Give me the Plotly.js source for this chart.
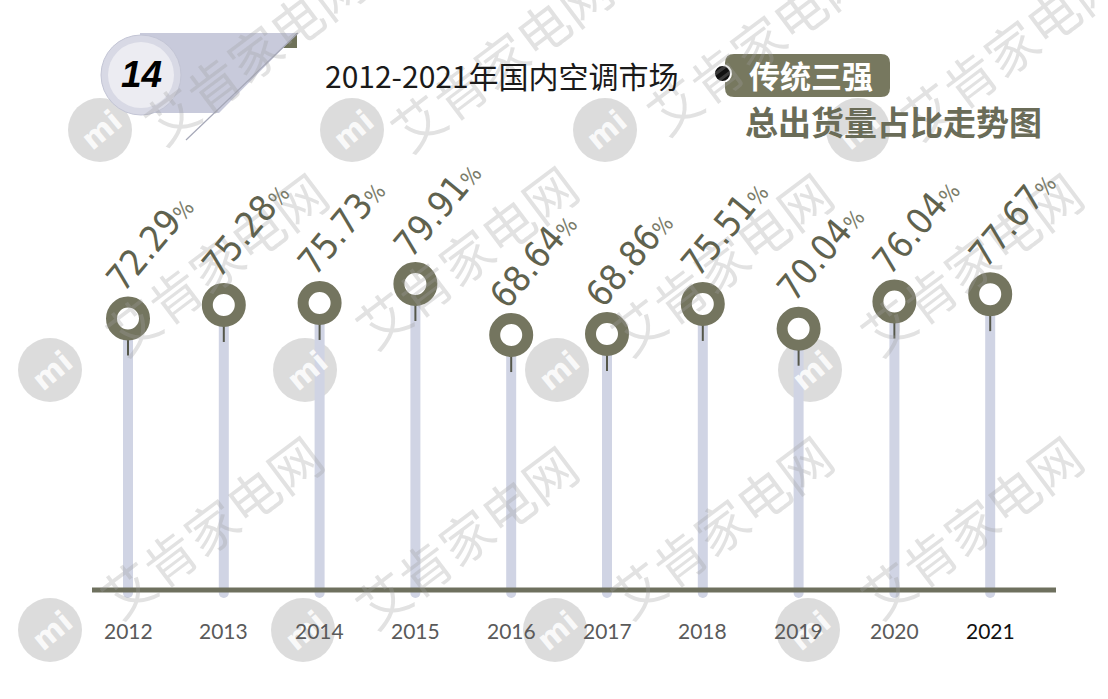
<!DOCTYPE html>
<html>
<head>
<meta charset="utf-8">
<script src="https://cdn.plot.ly/plotly-3.0.1.min.js"></script>
<style>
html,body{margin:0;padding:0;background:#fff;}
#chart{width:1108px;height:699px;}
</style>
</head>
<body>
<div id="chart"></div>
<script>
// ---- data ----
const years = [2012, 2013, 2014, 2015, 2016, 2017, 2018, 2019, 2020, 2021];
const shares = [72.29, 75.28, 75.73, 79.91, 68.64, 68.86, 75.51, 70.04, 76.04, 77.67];
const tickLabels = ['2012','2013','2014','2015','2016','2017','2018','2019','2020','2021'];
const titleLine1 = '2012-2021年国内空调市场';
const titleTag = '传统三强';
const titleLine2 = '总出货量占比走势图';
const badgeNumber = '14';
const watermarkText = '艾肯家电网';

// ---- layout geometry (pixels) ----
const W = 1108, H = 699;
const L = 92, R = 52, T = 150, B = 87;
const plotW = W - L - R, plotH = H - T - B;
const pxPerYear = 95.8;
const pxPerUnit = 4.53;
const refVal = 79.91, refPx = 284;
const xRange = [2012 - (128 - L) / pxPerYear, 2012 - (128 - L) / pxPerYear + plotW / pxPerYear];
const yRange = [refVal - (H - B - refPx) / pxPerUnit, refVal + (refPx - T) / pxPerUnit];
const stemBottom = refVal - (598 - refPx) / pxPerUnit;
const baseLineVal = refVal - (590 - refPx) / pxPerUnit;

const px = x => (x - L) / plotW;
const py = y => (H - B - y) / plotH;

const olive = '#74755f';
const stemColor = '#d0d4e4';

// stems: bars drawn downward from the value so the rounded end is at the bottom
const stems = {
  type: 'bar',
  x: years,
  base: shares,
  y: shares.map(v => stemBottom - v),
  width: 10 / pxPerYear,
  marker: {color: stemColor},
  hoverinfo: 'skip',
  showlegend: false
};

const rings = {
  type: 'scatter',
  mode: 'markers',
  x: years,
  y: shares,
  marker: {size: 33, color: '#ffffff', line: {color: olive, width: 11}},
  error_y: {type: 'data', symmetric: false, array: shares.map(() => 0),
            arrayminus: shares.map(() => 37 / pxPerUnit), width: 0, thickness: 2, color: '#55574a'},
  cliponaxis: false,
  showlegend: false,
  hoverinfo: 'skip'
};

const annotations = [];
function note(xp, yp, text, font, extra) {
  const a = Object.assign({x: px(xp), y: py(yp), xref: 'paper', yref: 'paper', text: text,
    showarrow: false, xanchor: 'center', yanchor: 'middle', font: font}, extra || {});
  annotations.push(a);
}

// watermark text (drawn first, under other annotations)
const wmCenters = [[254,52],[500,58],[757,42],[1010,46],[215,262],[465,255],[720,262],[970,262],[210,525],[465,535],[720,525],[970,525]];
wmCenters.forEach(c => {
  note(c[0], c[1], watermarkText, {family: 'Noto Sans CJK SC, sans-serif', size: 52, color: 'rgba(160,160,160,0.30)'}, {textangle: -37});
});
const logoCenters = [[100,130],[352,130],[605,130],[858,130],[50,370],[305,370],[557,370],[810,370],[50,630],[303,630],[555,630],[808,630]];
logoCenters.forEach(c => {
  note(c[0] + 2, c[1], '<b>mi</b>', {family: 'DejaVu Sans, sans-serif', size: 30, color: 'rgba(255,255,255,0.85)'}, {textangle: -40});
});

// value labels
years.forEach((yr, i) => {
  annotations.push({
    x: yr, y: shares[i], xref: 'x', yref: 'y',
    text: shares[i].toFixed(2) + '<span style="font-size:22px;color:#7a7c6a;font-weight:normal">%</span>',
    showarrow: false, textangle: -50, xanchor: 'center', yanchor: 'middle',
    xshift: 22, yshift: 76,
    font: {family: 'Liberation Sans Narrow, DejaVu Sans Condensed, sans-serif', size: 36, color: '#5f624e'}
  });
});
// year labels
years.forEach((yr, i) => {
  const last = i === years.length - 1;
  annotations.push({
    x: yr, y: py(630), xref: 'x', yref: 'paper', xanchor: 'center', yanchor: 'middle',
    text: tickLabels[i], showarrow: false,
    font: {family: 'Lato, Open Sans, sans-serif', size: 21, color: last ? '#111111' : '#5a5a5a'}
  });
});
// titles
note(502, 75, titleLine1, {family: 'Noto Sans CJK SC, sans-serif', size: 30, color: '#1a1a1a'});
note(811, 75, '<b>' + titleTag + '</b>', {family: 'Noto Sans CJK SC, sans-serif', size: 31, color: '#ffffff'});
note(893, 121, '<b>' + titleLine2 + '</b>', {family: 'Noto Sans CJK SC, sans-serif', size: 33, color: '#6a6c58'});
note(141, 75, '<b><i>' + badgeNumber + '</i></b>', {family: 'Liberation Sans, Arial, sans-serif', size: 37, color: '#000000'});

const shapes = [];
// watermark logo circles
logoCenters.forEach(c => {
  shapes.push({type: 'circle', xref: 'paper', yref: 'paper', layer: 'below',
    x0: px(c[0] - 32), x1: px(c[0] + 32), y0: py(c[1] + 32), y1: py(c[1] - 32),
    fillcolor: 'rgba(185,185,185,0.5)', line: {width: 0}});
});

// baseline
shapes.push({type: 'line', xref: 'paper', yref: 'y', x0: 0, x1: 1, y0: baseLineVal, y1: baseLineVal,
  line: {color: '#6e705e', width: 5}, layer: 'above'});

// badge
function pathPx(pts) {
  return 'M ' + pts.map(p => px(p[0]) + ',' + py(p[1])).join(' L ') + ' Z';
}
function roundRectPx(x0, y0, x1, y1, r) {
  const P = (x, y) => px(x) + ',' + py(y);
  return 'M ' + P(x0 + r, y0) + ' L ' + P(x1 - r, y0) + ' Q ' + P(x1, y0) + ' ' + P(x1, y0 + r) +
    ' L ' + P(x1, y1 - r) + ' Q ' + P(x1, y1) + ' ' + P(x1 - r, y1) +
    ' L ' + P(x0 + r, y1) + ' Q ' + P(x0, y1) + ' ' + P(x0, y1 - r) +
    ' L ' + P(x0, y0 + r) + ' Q ' + P(x0, y0) + ' ' + P(x0 + r, y0) + ' Z';
}
shapes.push({type: 'path', xref: 'paper', yref: 'paper', path: pathPx([[140,33],[298,33],[219,113],[140,113]]),
  fillcolor: '#c8cadb', line: {width: 0}, layer: 'below'});
shapes.push({type: 'path', xref: 'paper', yref: 'paper', path: pathPx([[283,48],[297,33],[297,48]]),
  fillcolor: '#6f7259', line: {width: 0}, layer: 'below'});
shapes.push({type: 'line', xref: 'paper', yref: 'paper', x0: px(298), y0: py(33), x1: px(186), y1: py(140),
  line: {color: '#a6a8b8', width: 1.2}, layer: 'below'});
shapes.push({type: 'circle', xref: 'paper', yref: 'paper', x0: px(101), x1: px(181), y0: py(115), y1: py(35),
  fillcolor: '#d8d9e5', line: {color: '#c3c5d5', width: 1}, layer: 'below'});
shapes.push({type: 'circle', xref: 'paper', yref: 'paper', x0: px(108), x1: px(174), y0: py(108), y1: py(42),
  fillcolor: '#ececf2', line: {width: 0}, layer: 'below'});

// title tag box and bullet
shapes.push({type: 'path', xref: 'paper', yref: 'paper', path: roundRectPx(725, 54, 890, 97, 9),
  fillcolor: '#77785f', line: {width: 0}, layer: 'below'});
shapes.push({type: 'circle', xref: 'paper', yref: 'paper', x0: px(714), x1: px(731), y0: py(82), y1: py(65),
  fillcolor: '#111111', line: {color: '#ffffff', width: 2}, layer: 'above'});

const layout = {
  width: W, height: H,
  margin: {l: L, r: R, t: T, b: B, pad: 0},
  paper_bgcolor: '#ffffff', plot_bgcolor: 'rgba(0,0,0,0)',
  xaxis: {range: xRange, showgrid: false, zeroline: false, showline: false, showticklabels: false, fixedrange: true},
  yaxis: {range: yRange, showgrid: false, zeroline: false, showline: false, showticklabels: false, fixedrange: true},
  barcornerradius: 5,
  showlegend: false,
  annotations: annotations,
  shapes: shapes
};

Plotly.newPlot('chart', [stems, rings], layout, {displayModeBar: false, staticPlot: true});
</script>
</body>
</html>
